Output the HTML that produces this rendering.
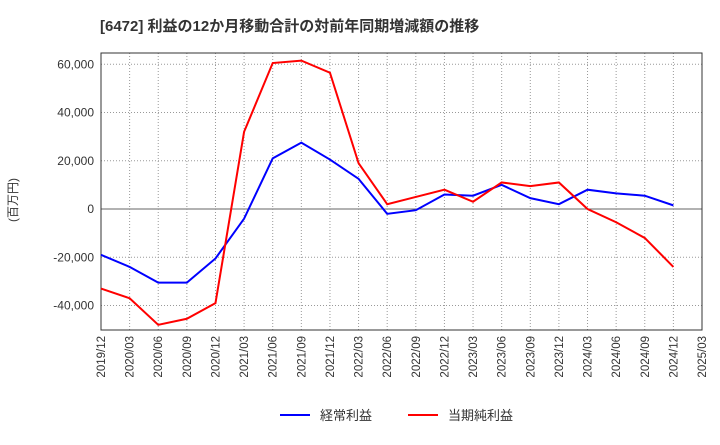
<!DOCTYPE html>
<html><head><meta charset="utf-8"><style>
body{margin:0;background:#fff;font-family:"Liberation Sans","Noto Sans CJK JP",sans-serif;}
</style></head><body>
<svg width="720" height="440" xmlns="http://www.w3.org/2000/svg">
<text x="100" y="31" font-size="15" font-weight="bold" fill="#333" font-family="Liberation Sans, Noto Sans CJK JP, sans-serif">[6472]  利益の12か月移動合計の対前年同期増減額の推移</text>
<g id="grid"></g>
<rect x="101" y="53" width="601" height="277" fill="none" stroke="#333"/>
<g id="yt"></g>
<g id="xt"></g>
<text transform="translate(17,200) rotate(-90)" font-size="12" fill="#333" text-anchor="middle" font-family="Liberation Sans, Noto Sans CJK JP, sans-serif">(百万円)</text>
<g id="series"></g>
<g>
<line x1="280" y1="415" x2="310" y2="415" stroke="#0000ff" stroke-width="2"/>
<text x="320" y="420" font-size="13" fill="#333" font-family="Liberation Sans, Noto Sans CJK JP, sans-serif">経常利益</text>
<line x1="408" y1="415" x2="438" y2="415" stroke="#ff0000" stroke-width="2"/>
<text x="448" y="420" font-size="13" fill="#333" font-family="Liberation Sans, Noto Sans CJK JP, sans-serif">当期純利益</text>
</g>
</svg>
<script>
const categories=["2019/12","2020/03","2020/06","2020/09","2020/12","2021/03","2021/06","2021/09","2021/12","2022/03","2022/06","2022/09","2022/12","2023/03","2023/06","2023/09","2023/12","2024/03","2024/06","2024/09","2024/12","2025/03"];
const ordinaryProfit=[-19000,-24000,-30500,-30500,-20500,-4000,21000,27500,20500,12500,-2000,-500,6000,5500,10000,4500,2000,8000,6500,5500,1500];
const netProfit=[-33000,-37000,-48000,-45500,-39000,32000,60500,61500,56500,19000,2000,5000,8000,3000,11000,9500,11000,0,-5500,-12000,-24000];
const yTicks=[-40000,-20000,0,20000,40000,60000];
const NS="http://www.w3.org/2000/svg";
const X0=101,X1=702;
function xs(i){return X0+i*(X1-X0)/(categories.length-1);}
function ys(v){return 209-v*48.25/20000;}
function mk(t,a,p){const e=document.createElementNS(NS,t);for(const k in a)e.setAttribute(k,a[k]);p.appendChild(e);return e;}
const grid=document.getElementById('grid'),yt=document.getElementById('yt'),xt=document.getElementById('xt'),ser=document.getElementById('series');
yTicks.forEach(v=>{
 const l=mk('line',{x1:X0,x2:X1,y1:ys(v),y2:ys(v),stroke:'#999','stroke-dasharray':'1,2'},grid);
 
 
 const t=mk('text',{x:94,y:ys(v)+4,'font-size':12,fill:'#333','text-anchor':'end'},yt);
 t.textContent=v.toLocaleString('en-US');
 
 
});
const zl=mk('line',{x1:X0,x2:X1,y1:ys(0),y2:ys(0),stroke:'#666'},grid);


categories.forEach((c,i)=>{
 const x=xs(i);
 const l=mk('line',{x1:x,x2:x,y1:53,y2:330,stroke:'#999','stroke-dasharray':'1,2'},grid);
 
 
 const t=mk('text',{transform:`translate(${x+4},336) rotate(-90)`,'font-size':11.5,fill:'#333','text-anchor':'end'},xt);
 t.textContent=c;
 
 
});
function line(d,col,name){
 const p=mk('polyline',{points:d.map((v,i)=>xs(i)+','+ys(v)).join(' '),fill:'none',stroke:col,'stroke-width':2},ser);
 
 
}
line(ordinaryProfit,'#0000ff','ordinary-profit-line');
line(netProfit,'#ff0000','net-profit-line');
</script>
</body></html>
